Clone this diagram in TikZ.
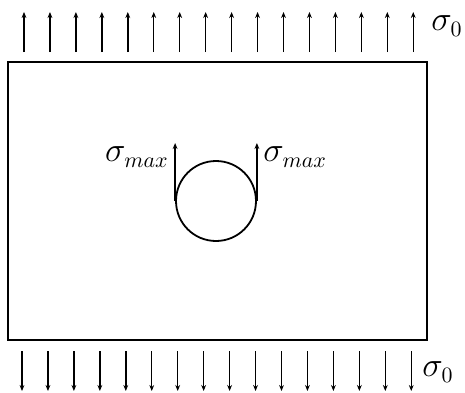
\documentclass[tikz,border=0pt]{standalone}
\usetikzlibrary{arrows.meta,positioning}

\begin{document}
\begin{tikzpicture}[
    x=0.5pt, y=0.5pt,
    load/.style={-{Stealth[length=3pt,width=2.4pt]}, line width=0.7pt},
    plate/.style={draw, line width=1.1pt},
    hole/.style={circle, draw, line width=0.9pt, minimum size=40pt, inner sep=0pt},
    stress/.style={font=\fontsize{16}{18}\selectfont, inner sep=1pt},
]
\useasboundingbox (0,0) rectangle (465,392);

% ================== Plate with hole ==================
\draw[plate] (8,52) rectangle (427,330);
\node[hole] (hole) at (216,191) {};

% ================== Remote tension ==================
\foreach \i in {0,...,15} {
  \draw[load] (24+\i*25.95,340) -- (24+\i*25.95,380);
  \draw[load] (22+\i*25.95,41) -- (22+\i*25.95,1);
}
\node[stress] (sigTop) at (447,366) {$\sigma_0$};
\node[stress] (sigBot) at (438,20) {$\sigma_0$};

% ================== Peak stress at hole ==================
\draw[load] (hole.west) -- ++(0,58) coordinate (maxL);
\draw[load] (hole.east) -- ++(0,58) coordinate (maxR);
\node[stress, anchor=east] (sigL) at (171,235) {$\sigma_{max}$};
\node[stress, anchor=west] (sigR) at (261,235) {$\sigma_{max}$};

\end{tikzpicture}
\end{document}
